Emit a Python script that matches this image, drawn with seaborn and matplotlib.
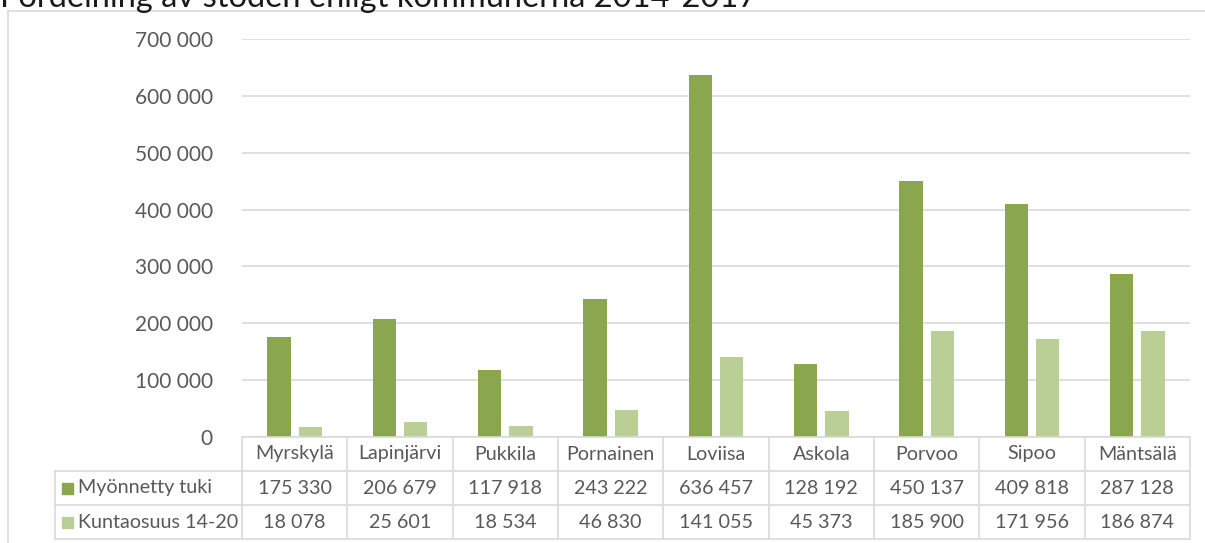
import pandas as pd
import seaborn as sns
import numpy as np
import matplotlib.pyplot as plt
from matplotlib.patches import Rectangle
from matplotlib.lines import Line2D
from matplotlib.ticker import FuncFormatter

kunnat = ["Myrskylä", "Lapinjärvi", "Pukkila", "Pornainen", "Loviisa",
          "Askola", "Porvoo", "Sipoo", "Mäntsälä"]
myonnetty_tuki = [175330, 206679, 117918, 243222, 636457, 128192, 450137, 409818, 287128]
kuntaosuus = [18078, 25601, 18534, 46830, 141055, 45373, 185900, 171956, 186874]
sarjat = ["Myönnetty tuki", "Kuntaosuus 14-20"]
yticks = [0, 100000, 200000, 300000, 400000, 500000, 600000, 700000]
otsikko = "Fördelning av stöden enligt kommunerna 2014-2017"

colors = ["#8aa64f", "#b9cf96"]
grid_c = "#d9d9d9"
text_c = "#595959"


def fmt(v):
    # thousands separated with a space, like in the original sheet
    return f"{int(v):,}".replace(",", " ")


df = pd.DataFrame({
    "kunta": kunnat * 2,
    "sarja": [sarjat[0]] * len(kunnat) + [sarjat[1]] * len(kunnat),
    "arvo": myonnetty_tuki + kuntaosuus,
})

sns.set_style("white")
plt.rcParams["font.family"] = ["Lato", "DejaVu Sans"]

W, H = 1205, 543
fig = plt.figure(figsize=(W / 100, H / 100), dpi=100)
ax = fig.add_axes([242 / W, 1 - 437 / H, (1190 - 242) / W, (437 - 39) / H])

sns.barplot(data=df, x="kunta", y="arvo", hue="sarja", palette=colors,
            saturation=1, width=0.59, gap=0.25, legend=False, ax=ax, linewidth=0)

ax.set_ylim(0, 700000)
ax.set_xlim(-0.5, len(kunnat) - 0.5)
ax.set_yticks(yticks)
ax.yaxis.set_major_formatter(FuncFormatter(lambda v, p: fmt(v)))
ax.tick_params(axis="y", length=0, pad=21, labelsize=15, labelcolor=text_c)
ax.set_xticks([])
ax.set_xlabel("")
ax.set_ylabel("")
ax.yaxis.grid(True, color=grid_c, linewidth=1.2)
ax.set_axisbelow(True)
for s in ax.spines.values():
    s.set_visible(False)

# data table under the bars
ax_h = 437 - 39
ax_w = 1190 - 242
rh = 34 / ax_h
lab_left = (55 - 242) / ax_w
xt = ax.get_xaxis_transform()
lw = 1.2
fs = 14.2

# horizontal lines
ax.add_line(Line2D([0, 1], [0, 0], transform=ax.transAxes, color=grid_c, lw=lw, clip_on=False))
for r in range(1, 4):
    ax.add_line(Line2D([lab_left, 1], [-r * rh, -r * rh], transform=ax.transAxes,
                       color=grid_c, lw=lw, clip_on=False))
# vertical lines
for i in range(len(kunnat) + 1):
    ax.add_line(Line2D([i - 0.5, i - 0.5], [0, -3 * rh], transform=xt,
                       color=grid_c, lw=lw, clip_on=False))
ax.add_line(Line2D([lab_left, lab_left], [-rh, -3 * rh], transform=ax.transAxes,
                   color=grid_c, lw=lw, clip_on=False))

for i, k in enumerate(kunnat):
    ax.text(i, -0.5 * rh, k, transform=xt, ha="center", va="center",
            fontsize=fs, color=text_c)
    ax.text(i, -1.5 * rh, fmt(myonnetty_tuki[i]), transform=xt, ha="center",
            va="center", fontsize=fs, color=text_c)
    ax.text(i, -2.5 * rh, fmt(kuntaosuus[i]), transform=xt, ha="center",
            va="center", fontsize=fs, color=text_c)

sq_w = 11 / ax_w
sq_h = 11 / ax_h
for r, (name, c) in enumerate(zip(sarjat, colors)):
    yc = -(r + 1.5) * rh
    ax.add_patch(Rectangle(((62 - 242) / ax_w, yc - sq_h / 2), sq_w, sq_h,
                           transform=ax.transAxes, color=c, clip_on=False))
    ax.text((78 - 242) / ax_w, yc, name, transform=ax.transAxes, ha="left",
            va="center", fontsize=fs, color=text_c)

# chart frame (top and left edges only are visible)
fig.add_artist(Line2D([8 / W, 1], [1 - 11 / H, 1 - 11 / H], transform=fig.transFigure,
                      color=grid_c, lw=1.2))
fig.add_artist(Line2D([8 / W, 8 / W], [0, 1 - 11 / H], transform=fig.transFigure,
                      color=grid_c, lw=1.2))

fig.text(0.0, 1 - 7 / H, otsikko, ha="left", va="baseline", fontsize=23.5, color="#1a1a1a")

fig.savefig("out.png", dpi=100)
